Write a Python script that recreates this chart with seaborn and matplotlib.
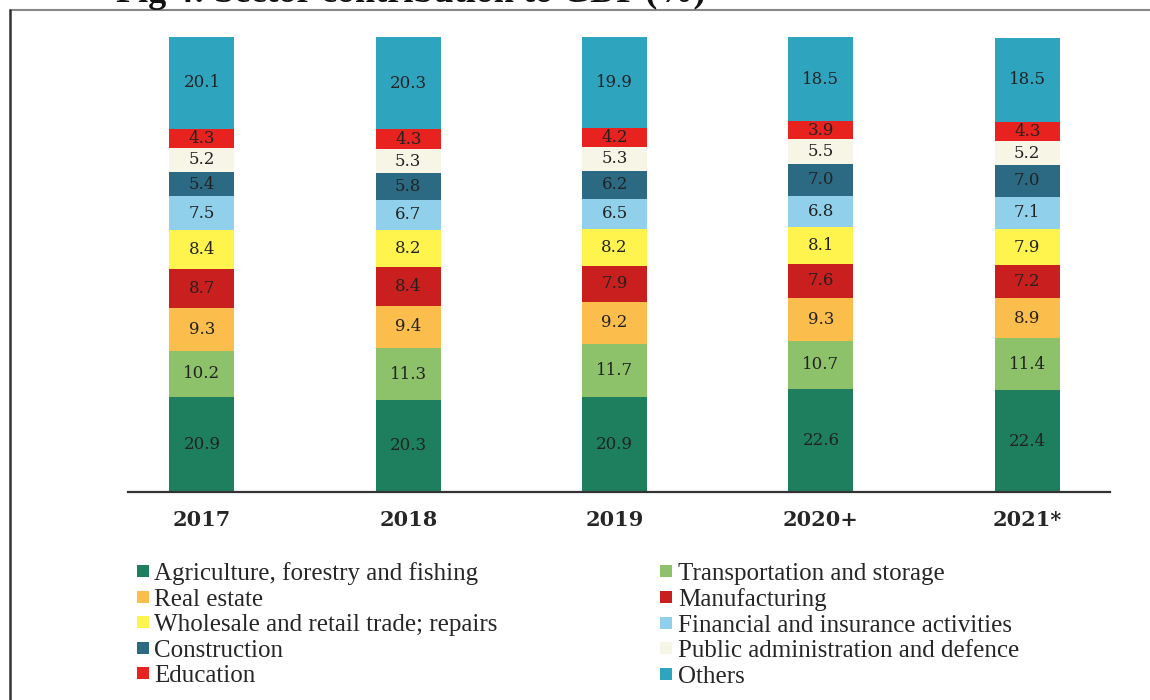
import matplotlib
matplotlib.use('Agg')
import matplotlib.pyplot as plt
from matplotlib.lines import Line2D
import numpy as np
import seaborn as sns

# Data (bottom -> top of each stacked bar)
years = ['2017', '2018', '2019', '2020+', '2021*']
sectors = ['Agriculture, forestry and fishing', 'Transportation and storage', 'Real estate',
           'Manufacturing', 'Wholesale and retail trade; repairs', 'Financial and insurance activities',
           'Construction', 'Public administration and defence', 'Education', 'Others']
agriculture = [20.9, 20.3, 20.9, 22.6, 22.4]
transport = [10.2, 11.3, 11.7, 10.7, 11.4]
real_estate = [9.3, 9.4, 9.2, 9.3, 8.9]
manufacturing = [8.7, 8.4, 7.9, 7.6, 7.2]
wholesale = [8.4, 8.2, 8.2, 8.1, 7.9]
financial = [7.5, 6.7, 6.5, 6.8, 7.1]
construction = [5.4, 5.8, 6.2, 7.0, 7.0]
public_admin = [5.2, 5.3, 5.3, 5.5, 5.2]
education = [4.3, 4.3, 4.2, 3.9, 4.3]
others = [20.1, 20.3, 19.9, 18.5, 18.5]
colors = ['#1e7f5e', '#8dc26a', '#fbbd4c', '#c91f1f', '#fff34d',
          '#90d0ea', '#2c6a84', '#f7f6e6', '#e8231f', '#2ea4be']

layers = [agriculture, transport, real_estate, manufacturing, wholesale,
          financial, construction, public_admin, education, others]

sns.set_style('white')
plt.rcParams['font.family'] = ['Liberation Serif', 'DejaVu Serif']

fig = plt.figure(figsize=(11.5, 7), dpi=100)
ax = fig.add_axes([0.111, 0.297, 0.854, 0.65])

vals = np.array(layers)
tops = vals.cumsum(axis=0)

# draw cumulative bars from the top layer down so each lower one covers the rest
for k in range(len(layers) - 1, -1, -1):
    sns.barplot(x=years, y=tops[k], order=years, color=colors[k], saturation=1,
                width=0.315, linewidth=0, ax=ax)

for k in range(len(layers)):
    for i in range(len(years)):
        ax.text(i, tops[k][i] - vals[k][i] / 2, f'{vals[k][i]:.1f}', ha='center', va='center',
                fontsize=12, color='#222222', family='DejaVu Serif')

ax.set_xlim(-0.36, 4.4)
ax.set_ylim(0, 100)
ax.set_yticks([])
ax.set_ylabel('')
ax.tick_params(axis='x', length=0, pad=13)
for lab in ax.get_xticklabels():
    lab.set_fontweight('bold')
    lab.set_fontsize(15)
    lab.set_family('DejaVu Serif')
for s in ['top', 'right', 'left']:
    ax.spines[s].set_visible(False)
ax.spines['bottom'].set_color('#333333')
ax.spines['bottom'].set_linewidth(1.6)

# legend, filled column by column
order = [0, 2, 4, 6, 8, 1, 3, 5, 7, 9]
handles = [Line2D([], [], marker='s', linestyle='', markersize=8,
                  markerfacecolor=colors[j], markeredgewidth=0) for j in order]
fig.legend(handles, [sectors[j] for j in order], ncol=2, loc='upper left',
           bbox_to_anchor=(0.119, 0.197), frameon=False, fontsize=18,
           handlelength=0.5, handletextpad=0.2, labelspacing=0.12,
           columnspacing=6.5, borderaxespad=0, borderpad=0)

# scanned page frame and clipped title
fig.add_artist(Line2D([10 / 1150, 1], [1 - 10 / 700, 1 - 10 / 700], color='#888888', lw=1.5))
fig.add_artist(Line2D([10 / 1150, 10 / 1150], [0, 1 - 10 / 700], color='#333333', lw=1.8))
fig.text(705 / 1150, 1 - 2 / 700, 'Fig 4: Sector contribution to GDP (%)', ha='right',
         va='baseline', fontsize=26, fontweight='bold', color='#111111')

fig.savefig('out.png', dpi=100)
